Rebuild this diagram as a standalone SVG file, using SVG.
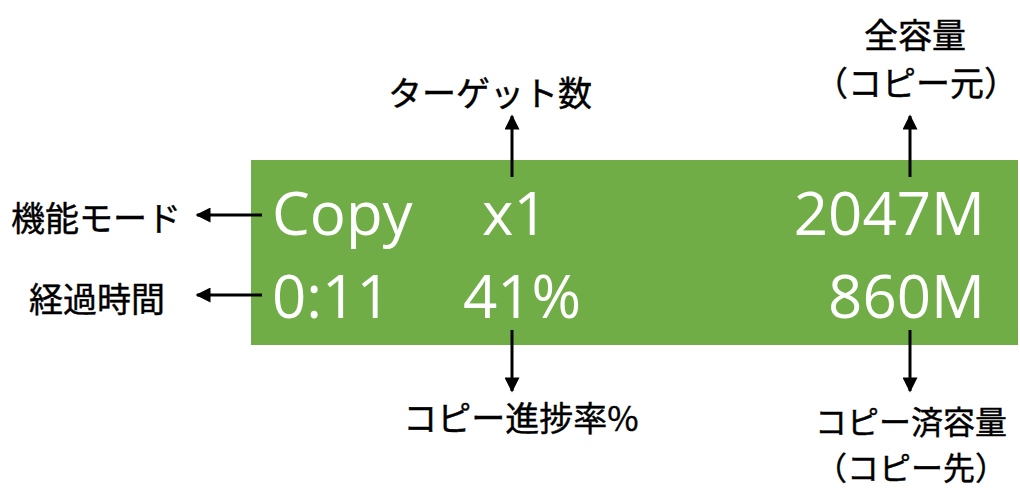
<svg xmlns="http://www.w3.org/2000/svg" width="1020" height="488" viewBox="0 0 1020 488">
<style>
.lbl{font-family:"Noto Sans CJK JP","Liberation Sans",sans-serif;font-size:34px;font-weight:400;fill:#000;text-anchor:middle;stroke:#000;stroke-width:0.4}
.sm{font-size:32px}
.val{font-family:"Open Sans","Liberation Sans",sans-serif;font-size:60px;fill:#fff}
.conn line{stroke:#000;stroke-width:3;marker-end:url(#ah)}
</style>
<defs>
<marker id="ah" viewBox="0 0 10 10" refX="9" refY="5" markerWidth="5.5" markerHeight="5" orient="auto" markerUnits="strokeWidth">
<path d="M0,0 L10,5 L0,10 Z" fill="#000"/>
</marker>
</defs>
<rect width="1020" height="488" fill="#fff"/>
<g id="display">
<rect x="251" y="160" width="767" height="185" fill="#70AD47"/>
<text class="val" x="272" y="235">Copy</text>
<text class="val" x="482" y="235">x1</text>
<text class="val" x="985" y="235" text-anchor="end">2047M</text>
<text class="val" x="272" y="318">0:11</text>
<text class="val" x="463" y="318">41%</text>
<text class="val" x="985" y="318" text-anchor="end">860M</text>
</g>
<g class="conn" id="connectors">
<line x1="262" y1="215" x2="197" y2="215"/>
<line x1="262" y1="295" x2="197" y2="295"/>
<line x1="512" y1="177" x2="512" y2="116"/>
<line x1="512" y1="330" x2="512" y2="391"/>
<line x1="910" y1="177" x2="910" y2="116"/>
<line x1="910" y1="330" x2="910" y2="391"/>
</g>
<g id="n-mode"><text class="lbl" x="96" y="231">機能モード</text></g>
<g id="n-time"><text class="lbl" x="97" y="312">経過時間</text></g>
<g id="n-target"><text class="lbl" x="490" y="106">ターゲット数</text></g>
<g id="n-progress"><text class="lbl" x="521" y="431">コピー進捗率%</text></g>
<g id="n-total"><text class="lbl" x="915" y="48">全容量</text><text class="lbl" x="916" y="96">（コピー元）</text></g>
<g id="n-done"><text class="lbl sm" x="911" y="434">コピー済容量</text><text class="lbl sm" x="911" y="480">（コピー先）</text></g>
</svg>
